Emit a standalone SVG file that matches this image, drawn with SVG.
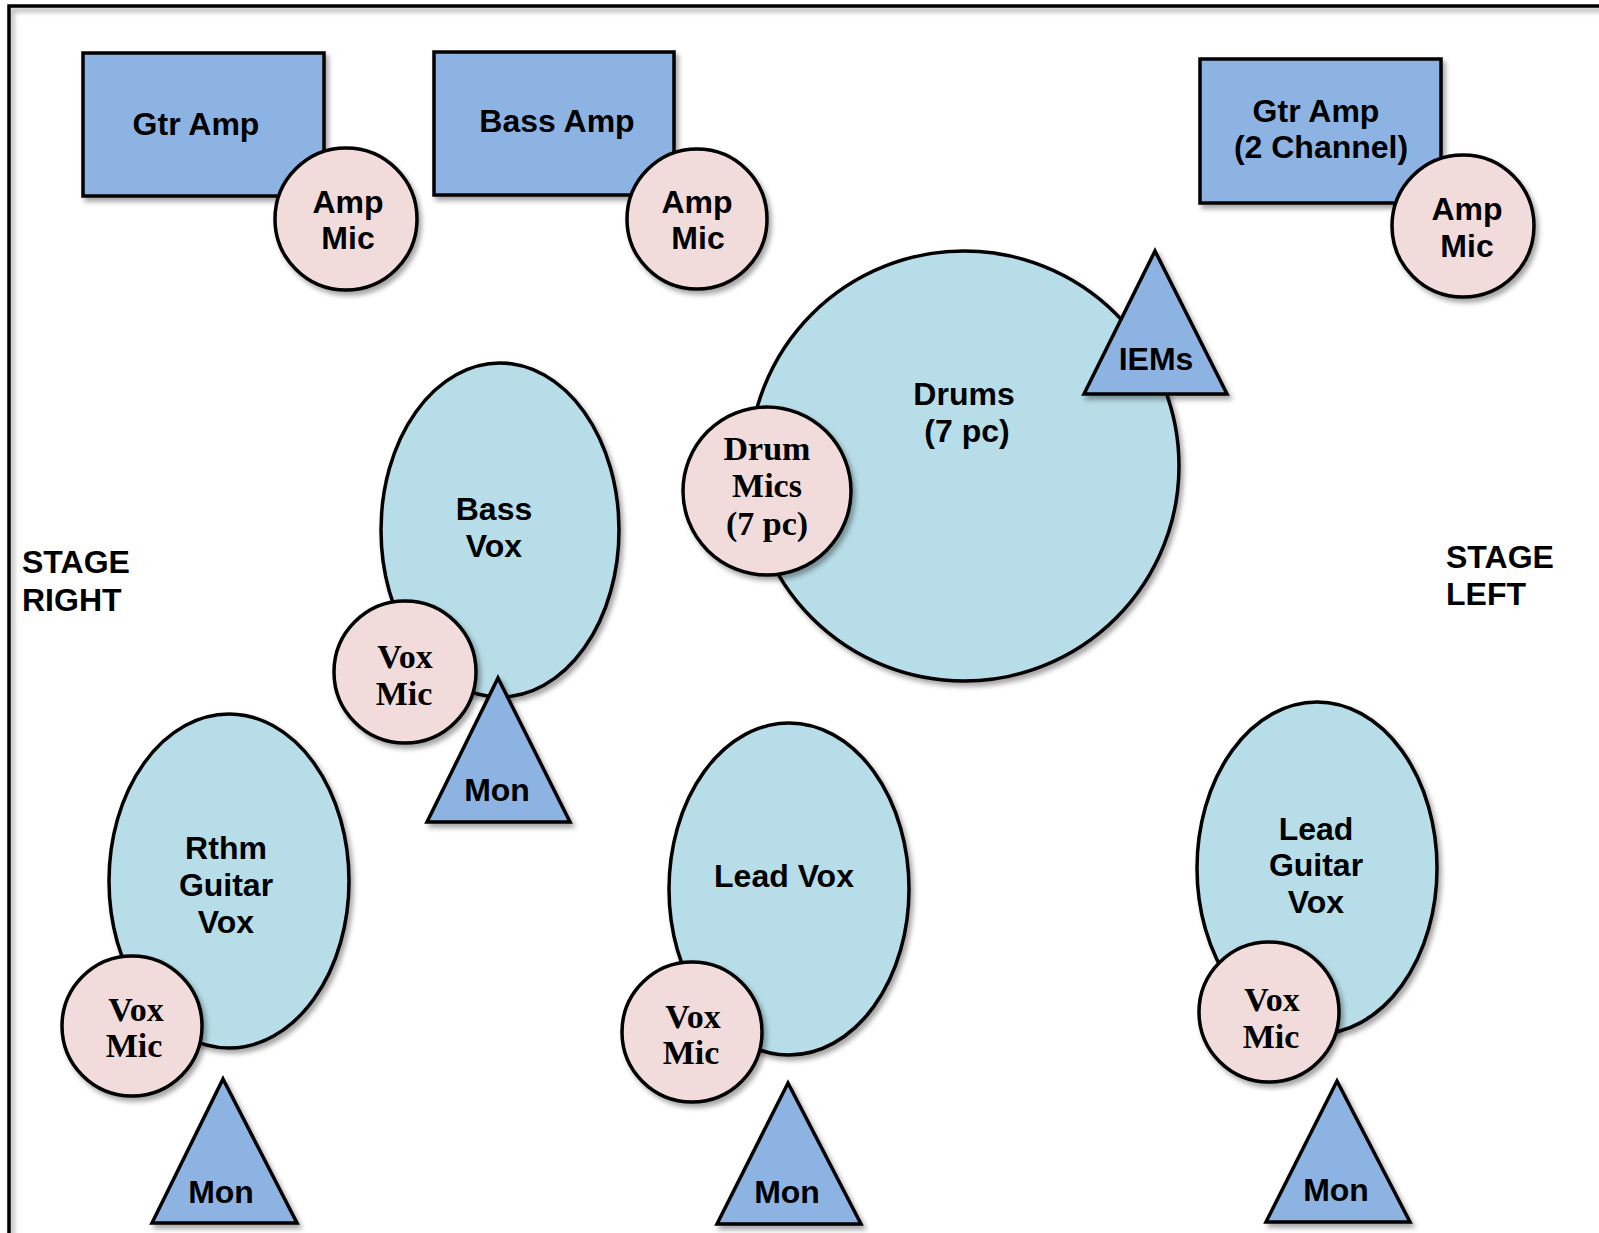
<svg xmlns="http://www.w3.org/2000/svg" width="1599" height="1233" viewBox="0 0 1599 1233">
<defs>
<filter id="sh" x="-20%" y="-20%" width="140%" height="140%">
<feDropShadow dx="3" dy="4" stdDeviation="2.5" flood-color="#000" flood-opacity="0.35"/>
</filter>
<style>
.amp{fill:#8DB3E2;stroke:#000;stroke-width:3.5;filter:url(#sh)}
.mic{fill:#F2DCDB;stroke:#000;stroke-width:3.5;filter:url(#sh)}
.pos{fill:#B7DDE8;stroke:#000;stroke-width:3.5;filter:url(#sh)}
.mon{fill:#8DB3E2;stroke:#000;stroke-width:3.5;stroke-linejoin:miter;filter:url(#sh)}
.s{font-family:"Liberation Sans",Arial,sans-serif;font-weight:bold;font-size:32px;fill:#000;text-anchor:middle}
.l{font-family:"Liberation Sans",Arial,sans-serif;font-weight:bold;font-size:32px;fill:#000}
.f{font-family:"Liberation Serif","Times New Roman",serif;font-weight:bold;font-size:34px;fill:#000;text-anchor:middle}
</style>
</defs>
<rect x="9" y="6" width="1640" height="1300" fill="none" stroke="#000" stroke-width="3.5" filter="url(#sh)"/>
<g id="labels">
<text class="l" x="22" y="573">STAGE</text>
<text class="l" x="22" y="611">RIGHT</text>
<text class="l" x="1446" y="568">STAGE</text>
<text class="l" x="1446" y="605">LEFT</text>
</g>
<g id="gtr-amp">
<rect class="amp" x="83" y="53" width="241" height="143"/>
<text class="s" x="196" y="135">Gtr Amp</text>
</g>
<g id="amp-mic-1">
<circle class="mic" cx="346" cy="219" r="71"/>
<text class="s" x="348" y="213">Amp</text>
<text class="s" x="348" y="249">Mic</text>
</g>
<g id="bass-amp">
<rect class="amp" x="434" y="52" width="240" height="143"/>
<text class="s" x="557" y="132">Bass Amp</text>
</g>
<g id="amp-mic-2">
<circle class="mic" cx="697" cy="219" r="70"/>
<text class="s" x="697" y="213">Amp</text>
<text class="s" x="698" y="249">Mic</text>
</g>
<g id="gtr-amp-2ch">
<rect class="amp" x="1200" y="59" width="241" height="144"/>
<text class="s" x="1316" y="122">Gtr Amp</text>
<text class="s" x="1321" y="158">(2 Channel)</text>
</g>
<g id="amp-mic-3">
<circle class="mic" cx="1463" cy="226" r="71"/>
<text class="s" x="1467" y="220">Amp</text>
<text class="s" x="1467" y="257">Mic</text>
</g>
<g id="drums">
<circle class="pos" cx="964" cy="466" r="215"/>
<text class="s" x="964" y="405">Drums</text>
<text class="s" x="967" y="442">(7 pc)</text>
</g>
<g id="iems">
<polygon class="mon" points="1155,251 1227,394 1084,394"/>
<text class="s" x="1156" y="370">IEMs</text>
</g>
<g id="drum-mics">
<circle class="mic" cx="767" cy="491" r="84"/>
<text class="f" x="767" y="460">Drum</text>
<text class="f" x="767" y="497">Mics</text>
<text class="f" x="767" y="535">(7 pc)</text>
</g>
<g id="bass-vox">
<ellipse class="pos" cx="500" cy="530" rx="119" ry="167"/>
<text class="s" x="494" y="520">Bass</text>
<text class="s" x="494" y="557">Vox</text>
</g>
<g id="bass-vox-mic">
<circle class="mic" cx="405" cy="672" r="71"/>
<text class="f" x="405" y="668">Vox</text>
<text class="f" x="404" y="705">Mic</text>
</g>
<g id="bass-mon">
<polygon class="mon" points="498,678 570,822 427,822"/>
<text class="s" x="497" y="801">Mon</text>
</g>
<g id="rthm-vox">
<ellipse class="pos" cx="229" cy="881" rx="120" ry="167"/>
<text class="s" x="226" y="859">Rthm</text>
<text class="s" x="226" y="896">Guitar</text>
<text class="s" x="226" y="933">Vox</text>
</g>
<g id="rthm-vox-mic">
<circle class="mic" cx="132" cy="1026" r="70"/>
<text class="f" x="136" y="1021">Vox</text>
<text class="f" x="134" y="1057">Mic</text>
</g>
<g id="rthm-mon">
<polygon class="mon" points="223,1079 297,1223 152,1223"/>
<text class="s" x="221" y="1203">Mon</text>
</g>
<g id="lead-vox">
<ellipse class="pos" cx="789" cy="889" rx="120" ry="166"/>
<text class="s" x="784" y="887">Lead Vox</text>
</g>
<g id="lead-vox-mic">
<circle class="mic" cx="692" cy="1032" r="70"/>
<text class="f" x="693" y="1028">Vox</text>
<text class="f" x="691" y="1064">Mic</text>
</g>
<g id="lead-mon">
<polygon class="mon" points="788,1083 861,1224 717,1224"/>
<text class="s" x="787" y="1203">Mon</text>
</g>
<g id="lead-guitar-vox">
<ellipse class="pos" cx="1317" cy="868" rx="120" ry="166"/>
<text class="s" x="1316" y="840">Lead</text>
<text class="s" x="1316" y="876">Guitar</text>
<text class="s" x="1316" y="913">Vox</text>
</g>
<g id="lead-guitar-vox-mic">
<circle class="mic" cx="1269" cy="1012" r="70"/>
<text class="f" x="1272" y="1011">Vox</text>
<text class="f" x="1271" y="1048">Mic</text>
</g>
<g id="lead-guitar-mon">
<polygon class="mon" points="1337,1081 1410,1222 1266,1222"/>
<text class="s" x="1336" y="1201">Mon</text>
</g>
<g id="connectors"></g>
</svg>
